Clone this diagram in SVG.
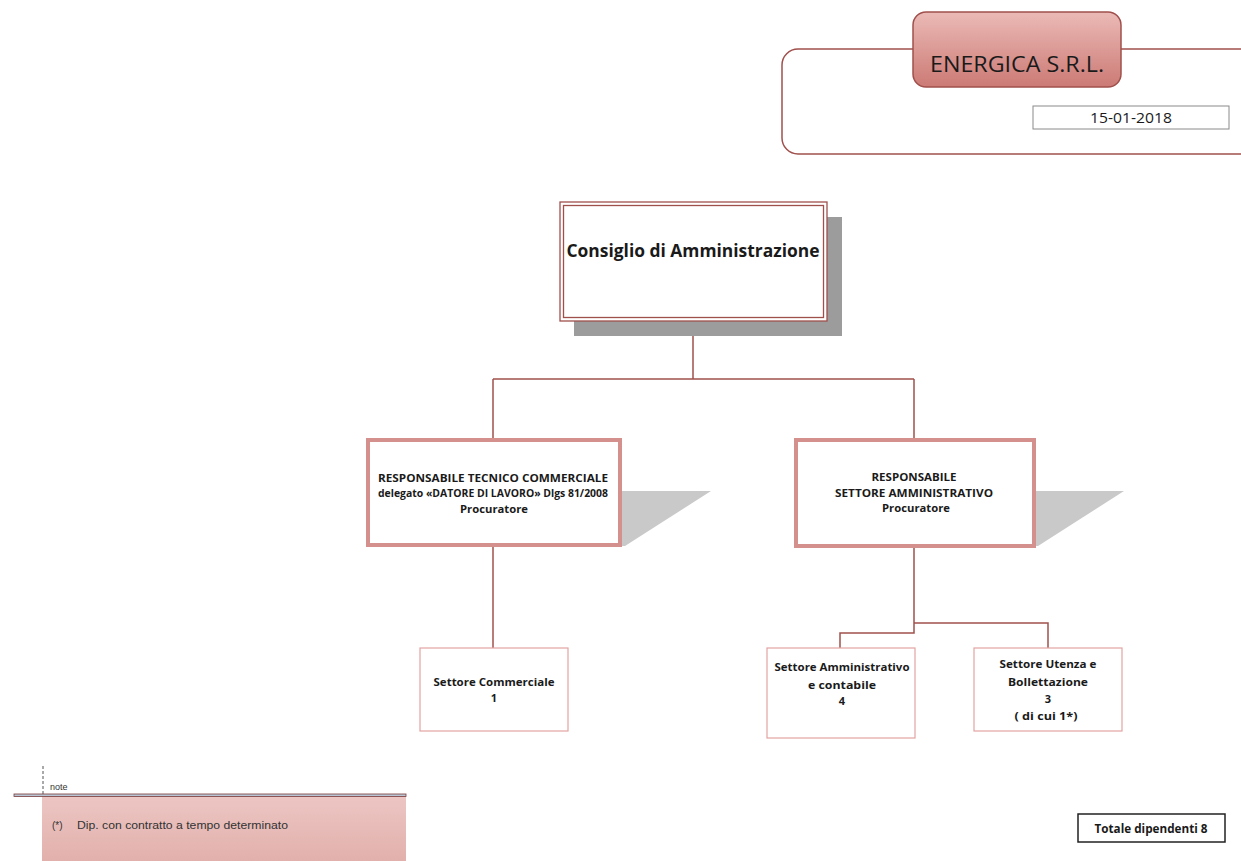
<svg xmlns="http://www.w3.org/2000/svg" width="1241" height="861" viewBox="0 0 1241 861">
<defs>
<linearGradient id="pill" x1="0" y1="0" x2="0" y2="1">
<stop offset="0" stop-color="#ebbab6"/>
<stop offset="1" stop-color="#cc7a75"/>
</linearGradient>
<linearGradient id="notefill" x1="0" y1="0" x2="0" y2="1">
<stop offset="0" stop-color="#ecc6c3"/>
<stop offset="1" stop-color="#e2b0ac"/>
</linearGradient>
<style>
text{font-family:"Open Sans","Liberation Sans",sans-serif;fill:#1a1a1a}
.b{font-weight:bold}
.conn{fill:none;stroke:#a0504c;stroke-width:1.5}
.mid{fill:#fff;stroke:#d4908c;stroke-width:4}
.sh{fill:#c9c9c9}
.small{fill:#fff;stroke:#e2a4a2;stroke-width:1.2}
</style>
</defs>
<rect width="1241" height="861" fill="#fff"/>

<g id="header">
<rect x="782" y="49" width="480" height="105" rx="16" fill="#fff" stroke="#a0504c" stroke-width="1.5"/>
<rect x="913" y="12" width="208" height="75" rx="13" fill="url(#pill)" stroke="#a0504c" stroke-width="1.5"/>
<text x="1017" y="72" font-size="22" text-anchor="middle" textLength="174" lengthAdjust="spacingAndGlyphs">ENERGICA S.R.L.</text>
<rect x="1033" y="106" width="196" height="23" fill="#fff" stroke="#8a8a8a" stroke-width="1"/>
<text x="1131" y="123" font-size="14" text-anchor="middle" textLength="82" lengthAdjust="spacingAndGlyphs">15-01-2018</text>
</g>

<g id="connectors">
<path class="conn" d="M693 321V379M493 379H914M493 379V440M914 379V440"/>
<path class="conn" d="M493 546V648"/>
<path class="conn" d="M914 546V633H840V648M914 623H1048V648"/>
</g>

<g id="cda">
<rect x="574" y="217" width="268" height="119" fill="#9c9c9c"/>
<rect x="560" y="202" width="267" height="119" fill="#fff" stroke="#a0504c" stroke-width="1.3"/>
<rect x="563.5" y="205.5" width="260" height="112" fill="none" stroke="#a0504c" stroke-width="1.3"/>
<text class="b" x="693" y="257" font-size="18" text-anchor="middle" textLength="253" lengthAdjust="spacingAndGlyphs">Consiglio di Amministrazione</text>
</g>

<g id="resp-tecnico">
<polygon class="sh" points="620,491 711,491 625,546 620,546"/>
<rect class="mid" x="368" y="440" width="252" height="105"/>
<text class="b" x="493" y="482" font-size="11" text-anchor="middle" textLength="230" lengthAdjust="spacingAndGlyphs">RESPONSABILE TECNICO COMMERCIALE</text>
<text class="b" x="493" y="497" font-size="10" text-anchor="middle" textLength="230" lengthAdjust="spacingAndGlyphs">delegato «DATORE DI LAVORO» Dlgs 81/2008</text>
<text class="b" x="494" y="513" font-size="11" text-anchor="middle" textLength="68" lengthAdjust="spacingAndGlyphs">Procuratore</text>
</g>

<g id="resp-amm">
<polygon class="sh" points="1034,491 1124,491 1038,546 1034,546"/>
<rect class="mid" x="796" y="440" width="238" height="106"/>
<text class="b" x="914" y="481" font-size="11" text-anchor="middle" textLength="85" lengthAdjust="spacingAndGlyphs">RESPONSABILE</text>
<text class="b" x="914" y="497" font-size="11" text-anchor="middle" textLength="158" lengthAdjust="spacingAndGlyphs">SETTORE AMMINISTRATIVO</text>
<text class="b" x="916" y="512" font-size="11" text-anchor="middle" textLength="68" lengthAdjust="spacingAndGlyphs">Procuratore</text>
</g>

<g id="settore-commerciale">
<rect class="small" x="420" y="648" width="148" height="83"/>
<text class="b" x="494" y="686" font-size="11" text-anchor="middle" textLength="121" lengthAdjust="spacingAndGlyphs">Settore Commerciale</text>
<text class="b" x="494" y="702" font-size="11" text-anchor="middle">1</text>
</g>

<g id="settore-amministrativo">
<rect class="small" x="767" y="648" width="148" height="90"/>
<text class="b" x="842" y="671" font-size="11" text-anchor="middle" textLength="135" lengthAdjust="spacingAndGlyphs">Settore Amministrativo</text>
<text class="b" x="842" y="689" font-size="11" text-anchor="middle" textLength="68" lengthAdjust="spacingAndGlyphs">e  contabile</text>
<text class="b" x="842" y="705" font-size="11" text-anchor="middle">4</text>
</g>

<g id="settore-utenza">
<rect class="small" x="974" y="648" width="148" height="83"/>
<text class="b" x="1048" y="668" font-size="11" text-anchor="middle" textLength="97" lengthAdjust="spacingAndGlyphs">Settore Utenza e</text>
<text class="b" x="1048" y="686" font-size="11" text-anchor="middle" textLength="80" lengthAdjust="spacingAndGlyphs">Bollettazione</text>
<text class="b" x="1048" y="703" font-size="11" text-anchor="middle">3</text>
<text class="b" x="1046" y="720" font-size="11" text-anchor="middle" textLength="63" lengthAdjust="spacingAndGlyphs">( di cui 1*)</text>
</g>

<g id="note">
<line x1="43" y1="766" x2="43" y2="795" stroke="#555" stroke-width="1" stroke-dasharray="3,2"/>
<text x="50" y="790" font-size="9" style="font-family:'Liberation Sans',sans-serif;fill:#333">note</text>
<rect x="42" y="796" width="364" height="65" fill="url(#notefill)"/>
<rect x="14" y="794" width="392" height="2.5" fill="#b9c6d6" stroke="#7a3a38" stroke-width="0.8"/>
<text x="52" y="829" font-size="10" style="font-family:'Liberation Sans',sans-serif;fill:#333">(*)</text>
<text x="77" y="829" font-size="10" style="font-family:'Liberation Sans',sans-serif;fill:#333" textLength="211" lengthAdjust="spacingAndGlyphs">Dip. con contratto a tempo determinato</text>
</g>

<g id="totale">
<rect x="1078" y="814" width="147" height="28" fill="#fff" stroke="#222" stroke-width="1.5"/>
<text class="b" x="1151" y="833" font-size="12" text-anchor="middle" textLength="113" lengthAdjust="spacingAndGlyphs">Totale dipendenti 8</text>
</g>
</svg>
